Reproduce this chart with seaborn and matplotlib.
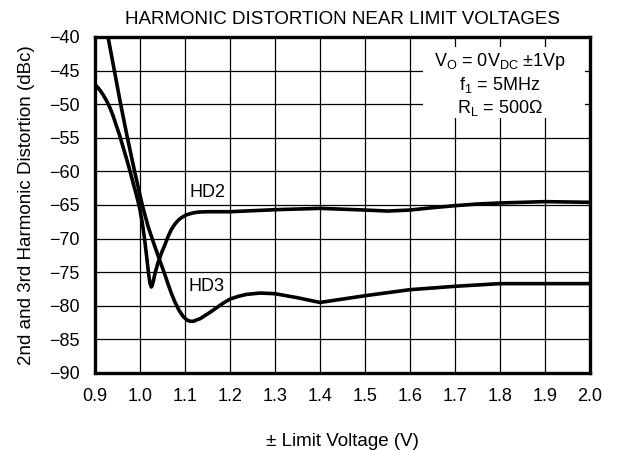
import numpy as np
import pandas as pd
import seaborn as sns
import matplotlib
matplotlib.use("Agg")
import matplotlib.pyplot as plt
from matplotlib.patches import Rectangle

# datos
hd2_v = [0.900, 0.906, 0.912, 0.918, 0.925, 0.933, 0.940, 0.947, 0.955, 0.962,
         0.970, 0.978, 0.985, 0.992, 0.999, 1.005, 1.010, 1.015, 1.019, 1.022,
         1.025, 1.027, 1.030, 1.034, 1.040, 1.048, 1.056, 1.063, 1.070, 1.078,
         1.086, 1.094, 1.102, 1.111, 1.120, 1.130, 1.150, 1.200, 1.250, 1.300,
         1.400, 1.500, 1.550, 1.600, 1.650, 1.700, 1.750, 1.800, 1.900, 2.000]
hd2_db = [-47.1, -47.5, -48.0, -48.6, -49.4, -50.5, -51.7, -53.1, -54.7, -56.3,
          -58.1, -60.0, -61.8, -63.5, -65.4, -67.6, -70.0, -72.8, -75.2, -76.6,
          -77.2, -77.0, -76.2, -75.0, -73.6, -72.1, -70.8, -69.6, -68.6, -67.8,
          -67.2, -66.8, -66.5, -66.3, -66.15, -66.05, -66.0, -66.0, -65.85, -65.7,
          -65.5, -65.75, -65.9, -65.75, -65.4, -65.1, -64.85, -64.7, -64.5, -64.6]

hd3_v = [0.929, 0.943, 0.957, 0.972, 0.988, 1.005, 1.018, 1.030, 1.040, 1.048,
         1.056, 1.063, 1.070, 1.078, 1.087, 1.096, 1.104, 1.111, 1.119, 1.126,
         1.134, 1.141, 1.155, 1.170, 1.185, 1.200, 1.218, 1.237, 1.267, 1.300,
         1.350, 1.400, 1.450, 1.500, 1.600, 1.700, 1.800, 1.900, 2.000]
hd3_db = [-40.0, -45.0, -50.0, -55.0, -60.0, -65.0, -68.2, -70.6, -72.5, -74.0,
          -75.5, -76.9, -78.2, -79.5, -80.7, -81.6, -82.1, -82.3, -82.3, -82.1,
          -81.9, -81.6, -81.0, -80.3, -79.6, -79.0, -78.6, -78.3, -78.1, -78.2,
          -78.8, -79.5, -79.0, -78.5, -77.6, -77.1, -76.7, -76.7, -76.7]

x_ticks = [0.9, 1.0, 1.1, 1.2, 1.3, 1.4, 1.5, 1.6, 1.7, 1.8, 1.9, 2.0]
y_ticks = [-90, -85, -80, -75, -70, -65, -60, -55, -50, -45, -40]

df = pd.concat([
    pd.DataFrame({"v": hd2_v, "db": hd2_db, "curva": "HD2"}),
    pd.DataFrame({"v": hd3_v, "db": hd3_db, "curva": "HD3"}),
])

sns.set_style("white", {"text.color": "black", "axes.labelcolor": "black",
                        "xtick.color": "black", "ytick.color": "black"})
plt.rcParams["font.family"] = ["Liberation Sans", "DejaVu Sans"]
plt.rcParams["mathtext.fontset"] = "custom"
plt.rcParams["mathtext.rm"] = "Liberation Sans"
plt.rcParams["mathtext.default"] = "regular"

fig = plt.figure(figsize=(6.23, 4.5), dpi=100)
ax = fig.add_axes([95 / 623, 1 - 373 / 450, 495 / 623, 336 / 450])

sns.lineplot(data=df, x="v", y="db", hue="curva", palette=["black", "black"],
             linewidth=2.6, legend=False, ax=ax, zorder=4)

ax.set_xlim(0.9, 2.0)
ax.set_ylim(-90, -40)
ax.set_xticks(x_ticks)
ax.set_xticklabels([f"{t:.1f}" for t in x_ticks])
ax.set_yticks(y_ticks)
ax.tick_params(length=0, labelsize=13, pad=11, colors="black")
ax.grid(True, color="black", linewidth=0.9)
ax.set_axisbelow(True)
for s in ax.spines.values():
    s.set_visible(True)
    s.set_color("black")
    s.set_linewidth(2.4)
    s.set_zorder(5)

# caja blanca con las condiciones
ax.add_patch(Rectangle((1.629, -52.05), 0.36, 10.55, facecolor="white",
                       edgecolor="none", zorder=2))
ax.text(1.8, -43.7, r"V$_O$ = 0V$_{DC}$ $\pm$1Vp", ha="center", va="center",
        fontsize=13, color="black", zorder=3)
ax.text(1.8, -47.1, r"f$_1$ = 5MHz", ha="center", va="center",
        fontsize=13, color="black", zorder=3)
ax.text(1.8, -50.6, "R$_L$ = 500Ω", ha="center", va="center",
        fontsize=13, color="black", zorder=3)

ax.text(1.111, -63.1, "HD2", ha="left", va="center", fontsize=13, color="black", zorder=3)
ax.text(1.107, -77.2, "HD3", ha="left", va="center", fontsize=13, color="black", zorder=3)

ax.set_title("HARMONIC DISTORTION NEAR LIMIT VOLTAGES", fontsize=13.5, pad=9, color="black")
ax.set_xlabel("± Limit Voltage (V)", fontsize=13.5, labelpad=20, color="black")
ax.set_ylabel("2nd and 3rd Harmonic Distortion (dBc)", fontsize=13.5, labelpad=10, color="black")

fig.savefig("out.png", dpi=100)
